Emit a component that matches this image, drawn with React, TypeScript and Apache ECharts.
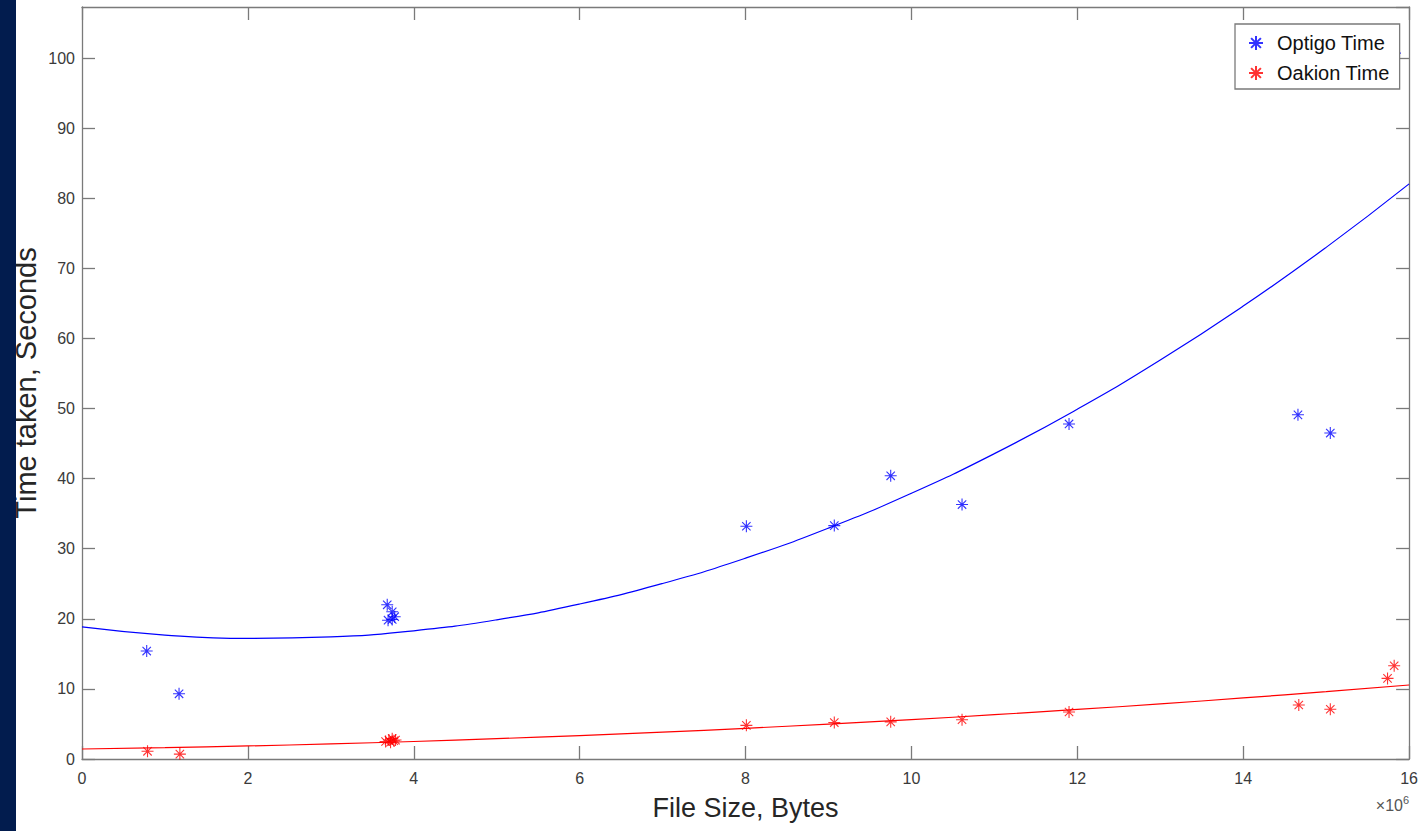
import React, { useEffect, useRef } from "react";
import * as echarts from "echarts";

// File size in units of 10^6 bytes, time in seconds
const optigoX = [0.78, 1.17, 3.68, 3.69, 3.74, 3.74, 3.77, 8.01, 9.07, 9.75, 10.61, 11.9, 14.66, 15.05, 15.83];
const optigoY = [15.4, 9.3, 22.0, 19.8, 21.0, 19.9, 20.3, 33.2, 33.3, 40.4, 36.3, 47.8, 49.1, 46.5, 100.7];

const oakionX = [0.79, 1.18, 3.66, 3.7, 3.72, 3.74, 3.76, 3.78, 8.01, 9.07, 9.75, 10.61, 11.9, 14.67, 15.05, 15.74, 15.82];
const oakionY = [1.1, 0.7, 2.5, 2.7, 2.4, 2.9, 2.6, 2.7, 4.8, 5.2, 5.3, 5.6, 6.7, 7.7, 7.1, 11.5, 13.3];

// Fitted trend curves
const fitX = [0, 1, 2, 3, 4, 5, 6, 7, 8, 9, 10, 11, 12, 13, 14, 15, 16];
const optigoFit = [18.84, 17.68, 17.2, 17.41, 18.29, 19.86, 22.11, 25.04, 28.65, 32.94, 37.91, 43.56, 49.9, 56.91, 64.61, 72.99, 82.05];
const oakionFit = [1.43, 1.62, 1.86, 2.16, 2.5, 2.9, 3.34, 3.83, 4.38, 4.98, 5.62, 6.32, 7.07, 7.86, 8.71, 9.61, 10.56];

const xTicks = [0, 2, 4, 6, 8, 10, 12, 14, 16];
const yTicks = [0, 10, 20, 30, 40, 50, 60, 70, 80, 90, 100];

const SERIES_NAMES = ["Optigo Time", "Oakion Time"];
const BLUE = "#0000ff";
const RED = "#ff0000";
const STAR = "path://M10,0L10,20M0,10L20,10M3,3L17,17M3,17L17,3";
const FONT = "'Liberation Sans', Arial, Helvetica, sans-serif";
const AXIS_COLOR = "#7a7a7a";
const TEXT_COLOR = "#262626";
const TICK_TEXT = "#3a3a3a";

const zip = (xs: number[], ys: number[]) => xs.map((x, i) => [x, ys[i]]);

export default function App() {
  const ref = useRef<HTMLDivElement>(null);

  useEffect(() => {
    if (!ref.current) return;
    const chart = echarts.init(ref.current, undefined, { renderer: "svg" });

    const xMin = xTicks[0];
    const xMax = xTicks[xTicks.length - 1];
    const yMin = yTicks[0];
    const yMax = 107.28;

    const commonX = {
      type: "value" as const,
      min: xMin,
      max: xMax,
      interval: 2,
      splitLine: { show: false },
      axisLine: { show: true, onZero: false, lineStyle: { color: AXIS_COLOR, width: 1.3 } },
      axisTick: { show: true, inside: true, length: 13, lineStyle: { color: AXIS_COLOR, width: 1.3 } },
    };
    const commonY = {
      type: "value" as const,
      min: yMin,
      max: yMax,
      interval: 10,
      splitLine: { show: false },
      axisLine: { show: true, onZero: false, lineStyle: { color: AXIS_COLOR, width: 1.3 } },
      axisTick: { show: true, inside: true, length: 13, lineStyle: { color: AXIS_COLOR, width: 1.3 } },
    };

    const option = {
      animation: false,
      backgroundColor: "#ffffff",
      textStyle: { fontFamily: FONT },
      grid: { left: 82, right: 8, top: 7, bottom: 72, containLabel: false },
      legend: {
        data: SERIES_NAMES.map((n) => ({ name: n, icon: STAR })),
        orient: "vertical",
        left: 1235,
        top: 24,
        padding: [8, 10, 5, 13],
        itemWidth: 14,
        itemHeight: 14,
        itemGap: 8,
        backgroundColor: "#ffffff",
        borderColor: "#7a7a7a",
        borderWidth: 1.3,
        borderRadius: 0,
        textStyle: { fontSize: 20, color: "#111", fontFamily: FONT, lineHeight: 22, padding: [0, 0, 0, 9] },
      },
      xAxis: [
        {
          ...commonX,
          position: "bottom",
          name: "File Size, Bytes",
          nameLocation: "middle",
          nameGap: 35,
          nameTextStyle: { fontSize: 27, color: TEXT_COLOR, fontFamily: FONT },
          axisLabel: {
            show: true,
            margin: 11,
            fontSize: 16,
            color: TICK_TEXT,
            fontFamily: FONT,
            formatter: (v: number) => (xTicks.includes(v) ? String(v) : ""),
          },
        },
        { ...commonX, position: "top", axisLabel: { show: false } },
      ],
      yAxis: [
        {
          ...commonY,
          position: "left",
          name: "Time taken, Seconds",
          nameLocation: "middle",
          nameGap: 42,
          nameMoveOverlap: false,
          nameTextStyle: { fontSize: 29, color: TEXT_COLOR, fontFamily: FONT },
          axisLabel: {
            show: true,
            margin: 7,
            fontSize: 16,
            color: TICK_TEXT,
            fontFamily: FONT,
            showMaxLabel: false,
            formatter: (v: number) => (yTicks.includes(v) ? String(v) : ""),
          },
        },
        { ...commonY, position: "right", axisLabel: { show: false } },
      ],
      graphic: [
        { type: "rect", shape: { x: 0, y: 0, width: 16, height: 831 }, style: { fill: "#021c4e" }, z: 100 },
        {
          type: "text",
          x: 1403,
          y: 813,
          style: { text: "×10", fontSize: 16, fill: "#555", fontFamily: FONT, textAlign: "right", textVerticalAlign: "bottom" },
        },
        {
          type: "text",
          x: 1403,
          y: 794,
          style: { text: "6", fontSize: 11, fill: "#555", fontFamily: FONT, textAlign: "left", textVerticalAlign: "top" },
        },
      ],
      series: [
        {
          name: "Optigo Fit",
          type: "line",
          data: zip(fitX, optigoFit),
          smooth: true,
          showSymbol: false,
          lineStyle: { color: BLUE, width: 1.2 },
          itemStyle: { color: BLUE },
          silent: true,
          z: 2,
        },
        {
          name: "Oakion Fit",
          type: "line",
          data: zip(fitX, oakionFit),
          smooth: true,
          showSymbol: false,
          lineStyle: { color: RED, width: 1.2 },
          itemStyle: { color: RED },
          silent: true,
          z: 2,
        },
        {
          name: SERIES_NAMES[0],
          type: "scatter",
          data: zip(optigoX, optigoY),
          symbol: STAR,
          symbolSize: 12,
          itemStyle: { color: BLUE, borderColor: BLUE, borderWidth: 1.1 },
          z: 3,
        },
        {
          name: SERIES_NAMES[1],
          type: "scatter",
          data: zip(oakionX, oakionY),
          symbol: STAR,
          symbolSize: 12,
          itemStyle: { color: RED, borderColor: RED, borderWidth: 1.1 },
          z: 3,
        },
      ],
    };

    chart.setOption(option as any);
    return () => chart.dispose();
  }, []);

  return (
    <div
      ref={ref}
      style={{ position: "absolute", left: 0, top: 0, width: 1421, height: 831, background: "#ffffff" }}
    />
  );
}
